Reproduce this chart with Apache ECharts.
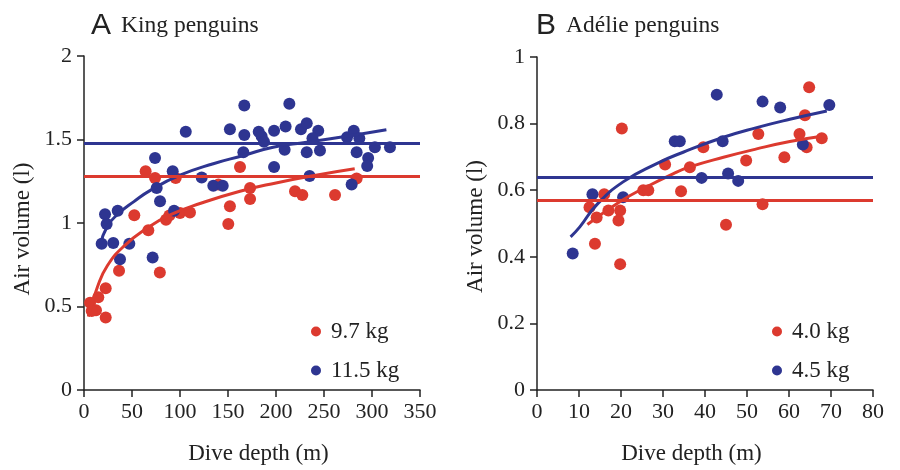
<!DOCTYPE html>
<html>
<head>
<meta charset="utf-8">
<script src="https://cdn.jsdelivr.net/npm/echarts@6/dist/echarts.min.js"></script>
<style>
  html, body { margin: 0; padding: 0; background: #fff; }
  #main { width: 900px; height: 470px; }
</style>
</head>
<body>
<div id="main"></div>
<script>
// King penguins, [depth m, air volume l]
const king97 = [
  [6.3,0.522],[14.9,0.556],[22.6,0.609],[12.5,0.477],[8,0.473],[22.6,0.434],
  [36.5,0.714],[79,0.704],[64.2,1.31],[74,1.27],[95.5,1.27],[52.4,1.047],
  [67,0.957],[85.4,1.02],[88.9,1.045],[100,1.06],[110.4,1.063],[140,1.23],
  [152,1.10],[150.3,0.994],[162.5,1.336],[173,1.21],[173,1.144],[219.8,1.19],
  [227.4,1.167],[261.5,1.167],[284,1.266]
];
const king115 = [
  [18.4,0.876],[30.5,0.88],[47.2,0.876],[21.9,1.053],[23.6,0.994],[35.1,1.073],
  [37.5,0.783],[71.5,0.793],[74,1.389],[92.4,1.31],[75.7,1.21],[79.2,1.13],
  [93.8,1.073],[106,1.546],[122.6,1.272],[134.7,1.223],[144.5,1.223],[152,1.562],
  [167,1.704],[167,1.527],[166,1.424],[182,1.546],[185,1.52],[187.5,1.487],
  [198,1.552],[210,1.578],[209,1.438],[198,1.335],[213.9,1.714],[226,1.562],
  [232,1.598],[244,1.552],[238,1.507],[232,1.424],[245.8,1.434],[235,1.282],
  [274,1.513],[281,1.552],[286.8,1.507],[284,1.424],[278.8,1.231],[296,1.389],
  [295,1.341],[303,1.454],[318.7,1.454]
];
// fitted curves
const king97Fit = [
  [4.5,0.44],[13.9,0.615],[24.3,0.744],[41.7,0.862],[65.9,0.97],[90.3,1.05],
  [121.6,1.118],[162.5,1.19],[200,1.24],[240,1.285],[282,1.325]
];
const king115Fit = [
  [17,0.87],[24.3,0.98],[34.7,1.05],[52,1.128],[69.5,1.197],[100,1.286],
  [134.7,1.355],[166,1.404],[197,1.454],[232,1.483],[273.6,1.519],[315,1.558]
];
const king97Mean = 1.277;
const king115Mean = 1.483;

// Adelie penguins
const adelie40 = [
  [20.2,0.785],[39.6,0.729],[30.5,0.677],[36.4,0.669],[25.3,0.6],[26.5,0.6],
  [34.3,0.597],[16,0.588],[12.5,0.549],[14.2,0.518],[17,0.539],[19.8,0.539],
  [19.4,0.509],[13.8,0.439],[19.8,0.378],[49.8,0.689],[52.7,0.769],[58.9,0.699],
  [62.5,0.769],[64.2,0.729],[63.8,0.825],[64.8,0.909],[67.8,0.756],[53.7,0.558],
  [45,0.496]
];
const adelie45 = [
  [8.5,0.41],[13.2,0.588],[20.5,0.579],[32.8,0.747],[34,0.747],[39.2,0.637],
  [42.8,0.887],[53.7,0.866],[57.9,0.848],[69.6,0.856],[44.2,0.747],[63.3,0.737],
  [45.5,0.65],[47.9,0.628]
];
const adelie40Fit = [
  [12,0.497],[19.8,0.566],[25.3,0.605],[32.5,0.65],[36.4,0.67],[44.4,0.699],
  [52.3,0.724],[60.2,0.746],[67.8,0.762]
];
const adelie45Fit = [
  [8,0.46],[10.2,0.49],[14.2,0.556],[20.5,0.625],[28.5,0.68],[34.8,0.714],
  [44.4,0.759],[52.3,0.788],[60.2,0.813],[69,0.838]
];
const adelie40Mean = 0.569;
const adelie45Mean = 0.635;

const RED = '#dc3a2f';
const BLUE = '#2e3591';
const serif = 'Liberation Serif';

let myChart = echarts.init(document.getElementById('main'));

function axisCommon() {
  return {
    axisLine: { show: true, onZero: false, lineStyle: { color: '#222', width: 1.5 } },
    axisTick: { show: true, inside: false, length: 7, lineStyle: { color: '#222', width: 1.5 } },
    splitLine: { show: false },
    axisLabel: { color: '#222', fontFamily: serif, fontSize: 22 },
    nameTextStyle: { color: '#222', fontFamily: serif, fontSize: 23 },
    nameLocation: 'middle'
  };
}

function dots(name, data, color, xi) {
  return {
    name: name, type: 'scatter', xAxisIndex: xi, yAxisIndex: xi,
    data: data, symbolSize: 12, itemStyle: { color: color, opacity: 1 }, z: 3
  };
}
function fit(data, color, xi) {
  return {
    type: 'line', xAxisIndex: xi, yAxisIndex: xi, data: data, smooth: true,
    symbol: 'none', lineStyle: { color: color, width: 3 }, z: 4, silent: true
  };
}
function mean(value, color, xi) {
  return {
    type: 'line', xAxisIndex: xi, yAxisIndex: xi, data: [], silent: true,
    markLine: {
      symbol: 'none', silent: true, label: { show: false },
      lineStyle: { color: color, width: 3, type: 'solid' },
      data: [{ yAxis: value }]
    }
  };
}

const titleRich = {
  a: { fontFamily: 'Liberation Sans', fontSize: 30, fontWeight: 'normal', color: '#222' },
  b: { fontFamily: serif, fontSize: 23.5, fontWeight: 'normal', color: '#222', padding: [0, 0, 0, 10] }
};

myChart.setOption({
  animation: false,
  title: [
    { left: 91, top: 11, padding: 0, text: '{a|A}{b|King penguins}', textStyle: { rich: titleRich } },
    { left: 536, top: 11, padding: 0, text: '{a|B}{b|Adélie penguins}', textStyle: { rich: titleRich } }
  ],
  legend: [
    {
      data: ['9.7 kg', '11.5 kg'], orient: 'vertical', left: 306, top: 315,
      itemGap: 16, itemWidth: 10, itemHeight: 10, icon: 'circle', selectedMode: false,
      textStyle: { fontFamily: serif, fontSize: 23, lineHeight: 23, color: '#222', padding: [0, 0, 0, 5] }
    },
    {
      data: ['4.0 kg', '4.5 kg'], orient: 'vertical', left: 767, top: 315,
      itemGap: 16, itemWidth: 10, itemHeight: 10, icon: 'circle', selectedMode: false,
      textStyle: { fontFamily: serif, fontSize: 23, lineHeight: 23, color: '#222', padding: [0, 0, 0, 5] }
    }
  ],
  grid: [
    { left: 84, right: 480, top: 56, bottom: 76 },
    { left: 537, right: 27, top: 57, bottom: 76 }
  ],
  xAxis: [
    Object.assign(axisCommon(), { gridIndex: 0, type: 'value', min: 0, max: 350, interval: 50,
      name: 'Dive depth (m)', nameGap: 52 }),
    Object.assign(axisCommon(), { gridIndex: 1, type: 'value', min: 0, max: 80, interval: 10,
      name: 'Dive depth (m)', nameGap: 52 })
  ],
  yAxis: [
    Object.assign(axisCommon(), { gridIndex: 0, type: 'value', min: 0, max: 2, interval: 0.5,
      name: 'Air volume (l)', nameGap: 50 }),
    Object.assign(axisCommon(), { gridIndex: 1, type: 'value', min: 0, max: 1, interval: 0.2,
      name: 'Air volume (l)', nameGap: 50 })
  ],
  series: [
    dots('9.7 kg', king97, RED, 0),
    dots('11.5 kg', king115, BLUE, 0),
    fit(king97Fit, RED, 0),
    fit(king115Fit, BLUE, 0),
    mean(king97Mean, RED, 0),
    mean(king115Mean, BLUE, 0),
    dots('4.0 kg', adelie40, RED, 1),
    dots('4.5 kg', adelie45, BLUE, 1),
    fit(adelie40Fit, RED, 1),
    fit(adelie45Fit, BLUE, 1),
    mean(adelie40Mean, RED, 1),
    mean(adelie45Mean, BLUE, 1)
  ]
});

// tweak label/name offsets to sit like the print figure
myChart.setOption({
  xAxis: [
    { axisLabel: { margin: 11 }, nameTextStyle: { padding: [0, 0, 0, 13] } },
    { axisLabel: { margin: 11 }, nameTextStyle: { padding: [0, 27, 0, 0] } }
  ],
  yAxis: [
    { axisLabel: { margin: 12 }, nameTextStyle: { padding: [0, 12, 0, 0] } },
    { axisLabel: { margin: 12 }, nameTextStyle: { padding: [0, 6, 0, 0] } }
  ]
});
</script>
</body>
</html>
